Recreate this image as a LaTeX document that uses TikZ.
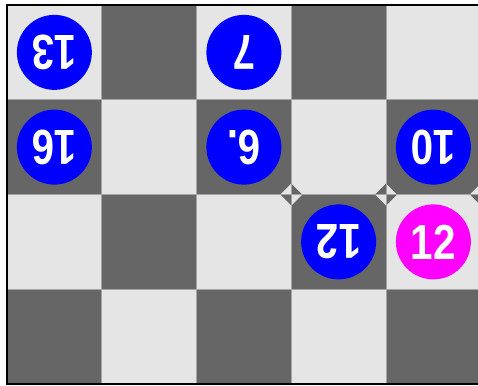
\documentclass[tikz,border=0pt]{standalone}
\usepackage{fontspec}
\newfontfamily\discfont[FakeStretch=0.82]{Liberation Sans}
\definecolor{darksq}{RGB}{102,102,102}
\definecolor{lightsq}{RGB}{229,229,229}
\definecolor{gridln}{RGB}{165,165,165}
\definecolor{discblue}{RGB}{0,0,255}
\definecolor{discpink}{RGB}{255,0,255}
\tikzset{disc/.style={circle,fill=discblue,minimum size=1.5cm,inner sep=0pt,text=white,font=\discfont\bfseries\fontsize{28}{28}\selectfont}}

\begin{document}
\begin{tikzpicture}[x=1.895cm,y=-1.895cm]
        \useasboundingbox (-0.0739,-0.0528) rectangle (4.971,4.0106);
        % squares
        \foreach \i in {0,...,4} \foreach \j in {0,...,3} {
            \ifodd\numexpr\i+\j\relax \fill[darksq] (\i,\j) rectangle ++(1,1); \else \fill[lightsq] (\i,\j) rectangle ++(1,1); \fi
        }
        % little diamonds at the corners
        \foreach \cx in {3,4,5} {
            \ifodd\cx \def\ca{lightsq}\def\cb{darksq} \else \def\ca{darksq}\def\cb{lightsq} \fi
            \fill[\ca] (\cx,2) -- ++(-0.116,0) -- ++(0.116,-0.116) -- cycle; \fill[\cb] (\cx,2) -- ++(0.116,0) -- ++(-0.116,-0.116) -- cycle;
            \fill[\cb] (\cx,2) -- ++(-0.116,0) -- ++(0.116,0.116) -- cycle; \fill[\ca] (\cx,2) -- ++(0.116,0) -- ++(-0.116,0.116) -- cycle;
        }
        \foreach \i in {1,...,5} \draw[gridln, line width=0.5pt] (\i,0) -- (\i,4);
        \foreach \j in {1,2,3} \draw[gridln, line width=0.5pt] (0,\j) -- (5,\j);
        \draw[line width=1.4pt] (0,0) rectangle (5,4);

        \node[disc, rotate=180] (d13) at (0.5,0.5) {13}; \node[disc, rotate=180] (d7) at (2.5,0.5) {7};
        \node[disc, rotate=180] (d16) at (0.5,1.5) {16}; \node[disc, rotate=180] (d6) at (2.5,1.5) {6.}; \node[disc, rotate=180] (d10) at (4.5,1.5) {10};
        \node[disc, rotate=180] (d12) at (3.5,2.5) {12}; \node[disc, fill=discpink] (m12) at (4.5,2.5) {12};
    \end{tikzpicture}
\end{document}
